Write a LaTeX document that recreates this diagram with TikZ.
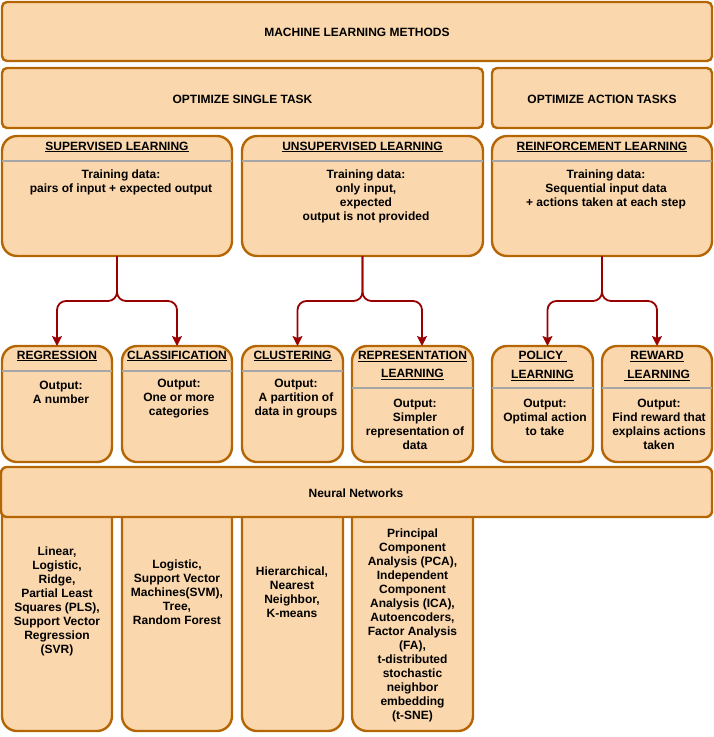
\documentclass[tikz,border=0pt]{standalone}
\usepackage{fontspec}
\setmainfont{Liberation Sans}
\usetikzlibrary{arrows.meta}
\definecolor{boxfill}{HTML}{FAD7AC}
\definecolor{boxline}{HTML}{B46504}
\definecolor{arrowred}{HTML}{990000}
\definecolor{divgray}{HTML}{A6A6A6}
\tikzset{
  basebox/.style={draw=boxline, fill=boxfill, line width=2.4pt, inner sep=0pt, outer sep=0pt},
  flatbox/.style={basebox, rounded corners=5pt},
  lanebox/.style={basebox, rounded corners=15pt},
  txt/.style={font=\bfseries\fontsize{12}{14}\selectfont, align=center, inner sep=0pt},
  ttl/.style={font=\bfseries\fontsize{12}{18.5}\selectfont, align=center, inner sep=0pt},
  divider/.style={draw=divgray, line width=1.2pt},
  arr/.style={draw=arrowred, line width=1.8pt, rounded corners=9pt, -{Stealth[length=10pt,width=10pt,inset=2pt]}}
}
\begin{document}
\begin{tikzpicture}[x=1pt,y=-1pt]
\useasboundingbox (0,0) rectangle (714,737);
% bottom columns (drawn first, tops hidden by neural networks box)
\node[lanebox, minimum width=110pt, minimum height=261pt] (regcol) at (57,600.5) {};
\node[lanebox, minimum width=110pt, minimum height=261pt] (clscol) at (177,600.5) {};
\node[lanebox, minimum width=101pt, minimum height=261pt] (clucol) at (292.5,600.5) {};
\node[lanebox, minimum width=121pt, minimum height=261pt] (repcol) at (412.5,600.5) {};
% top rows
\node[flatbox, minimum width=710pt, minimum height=59pt] (top) at (357,31.5) {};
\node[txt] (toptxt) at (357,32) {MACHINE LEARNING METHODS};
\node[flatbox, minimum width=481pt, minimum height=60pt] (single) at (242.5,98) {};
\node[txt] (singletxt) at (242.5,99) {OPTIMIZE SINGLE TASK};
\node[flatbox, minimum width=220pt, minimum height=60pt] (action) at (602,98) {};
\node[txt] (actiontxt) at (602,99) {OPTIMIZE ACTION TASKS};
% learning types
\node[lanebox, minimum width=230pt, minimum height=120pt] (sup) at (117,196) {};
\node[lanebox, minimum width=241pt, minimum height=120pt] (unsup) at (362.5,196) {};
\node[lanebox, minimum width=220pt, minimum height=120pt] (reinf) at (602,196) {};
\draw[divider] (sup.west |- 0,161) -- (sup.east |- 0,161);
\draw[divider] (unsup.west |- 0,161) -- (unsup.east |- 0,161);
\draw[divider] (reinf.west |- 0,161) -- (reinf.east |- 0,161);
\node[txt] (supt) at (117,147) {\underline{SUPERVISED LEARNING}};
\node[txt] (unsupt) at (362.5,147) {\underline{UNSUPERVISED LEARNING}};
\node[txt] (reinft) at (602,147) {\underline{REINFORCEMENT LEARNING}};
\node[txt] (supb) at (121,182) {Training data:\\pairs of input + expected output};
\node[txt] (unsupb) at (366,196) {Training data:\\only input,\\expected\\output is not provided};
\node[txt] (reinfb) at (606,189) {Training data:\\Sequential input data\\+ actions taken at each step};
% methods
\node[lanebox, minimum width=110pt, minimum height=116pt] (reg) at (57,404) {};
\node[lanebox, minimum width=110pt, minimum height=116pt] (cls) at (177,404) {};
\node[lanebox, minimum width=101pt, minimum height=116pt] (clu) at (292.5,404) {};
\node[lanebox, minimum width=121pt, minimum height=116pt] (rep) at (412.5,404) {};
\node[lanebox, minimum width=101pt, minimum height=116pt] (pol) at (542.5,404) {};
\node[lanebox, minimum width=110pt, minimum height=116pt] (rew) at (657,404) {};
\draw[divider] (reg.west |- 0,371) -- (reg.east |- 0,371);
\draw[divider] (cls.west |- 0,371) -- (cls.east |- 0,371);
\draw[divider] (clu.west |- 0,371) -- (clu.east |- 0,371);
\draw[divider] (rep.west |- 0,388) -- (rep.east |- 0,388);
\draw[divider] (pol.west |- 0,388) -- (pol.east |- 0,388);
\draw[divider] (rew.west |- 0,388) -- (rew.east |- 0,388);
\node[txt] (regt) at (57,356) {\underline{REGRESSION}};
\node[txt] (clst) at (177,356) {\underline{CLASSIFICATION}};
\node[txt] (clut) at (292.5,356) {\underline{CLUSTERING}};
\node[ttl] (rept) at (412.5,365.5) {\underline{REPRESENTATION}\\\underline{LEARNING}};
\node[ttl] (polt) at (542.5,366) {\underline{POLICY\ }\\\underline{LEARNING}};
\node[ttl] (rewt) at (657,366) {\underline{REWARD}\\\underline{\ LEARNING}};
\node[txt] (regb) at (61,392) {Output:\\A number};
\node[txt] (clsb) at (179,399) {Output:\\One or more\\categories};
\node[txt] (club) at (296,399) {Output:\\A partition of\\data in groups};
\node[txt] (repb) at (415,424) {Output:\\Simpler\\representation of\\data};
\node[txt] (polb) at (545,417) {Output:\\Optimal action\\to take};
\node[txt] (rewb) at (659,424) {Output:\\Find reward that\\explains actions\\taken};
% neural networks band
\node[flatbox, minimum width=711pt, minimum height=50pt, rounded corners=6pt] (nn) at (356.5,492) {};
\node[txt] (nnt) at (356,493) {Neural Networks};
% column texts
\node[txt] (regc) at (57,601) {Linear,\\Logistic,\\Ridge,\\Partial Least\\Squares (PLS),\\Support Vector\\Regression\\(SVR)};
\node[txt] (clsc) at (177,592) {Logistic,\\Support Vector\\Machines(SVM),\\Tree,\\Random Forest};
\node[txt] (cluc) at (292,592) {Hierarchical,\\Nearest\\Neighbor,\\K-means};
\node[txt] (repc) at (412.5,625) {Principal\\Component\\Analysis (PCA),\\Independent\\Component\\Analysis (ICA),\\Autoencoders,\\Factor Analysis\\(FA),\\t-distributed\\stochastic\\neighbor\\embedding\\(t-SNE)};
% connectors
\draw[arr] (sup.south) -- ++(0,45) -| (reg.north);
\draw[arr] (sup.south) -- ++(0,45) -| (cls.north);
\draw[arr] (unsup.south) -- ++(0,45) -| ([xshift=5pt]clu.north);
\draw[arr] (unsup.south) -- ++(0,45) -| ([xshift=9.5pt]rep.north);
\draw[arr] (reinf.south) -- ++(0,45) -| ([xshift=5pt]pol.north);
\draw[arr] (reinf.south) -- ++(0,45) -| (rew.north);
\end{tikzpicture}
\end{document}
